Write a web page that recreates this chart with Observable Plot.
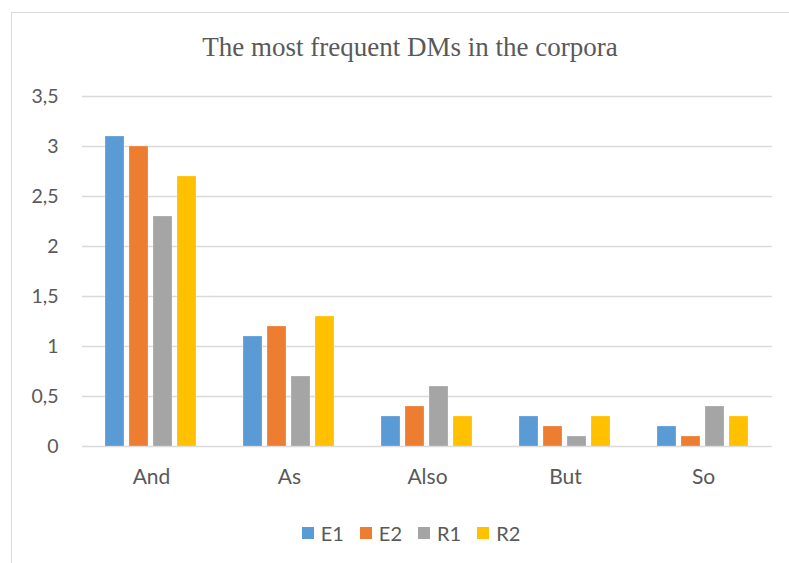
<!DOCTYPE html>
<html>
<head>
<meta charset="utf-8">
<script src="https://cdn.jsdelivr.net/npm/d3@7"></script>
<script src="https://cdn.jsdelivr.net/npm/@observablehq/plot@0.6"></script>
<style>
  html, body { margin: 0; padding: 0; background: #fff; width: 789px; height: 563px; overflow: hidden; }
  #frame { position: absolute; left: 11px; top: 12px; width: 800px; height: 560px; border-left: 1px solid #d9d9d9; border-top: 1px solid #d9d9d9; box-sizing: border-box; }
  #title { position: absolute; left: 0; top: 0; width: 820px; height: 70px; text-align: center; font-family: "Liberation Serif", "Times New Roman", serif; font-size: 27px; color: #595959; line-height: 28px; padding-top: 33px; box-sizing: border-box; white-space: nowrap; }
  #chart { position: absolute; left: 0; top: 70px; }
  #legend { position: absolute; left: 0; top: 520px; width: 822px; height: 26px; display: flex; justify-content: center; align-items: center; font-family: Lato, "Open Sans", sans-serif; font-size: 20px; color: #595959; }
  .item { display: flex; align-items: center; margin: 0 8px; }
  .sw { width: 12px; height: 12px; margin-right: 7px; }
</style>
</head>
<body>
<div id="frame"></div>
<div id="title">The most frequent DMs in the corpora</div>
<div id="chart"></div>
<div id="legend"></div>
<script>
const categories = ["And", "As", "Also", "But", "So"];
const seriesNames = ["E1", "E2", "R1", "R2"];
const seriesColors = ["#5B9BD5", "#ED7D31", "#A5A5A5", "#FFC000"];
const E1 = [3.1, 1.1, 0.3, 0.3, 0.2];
const E2 = [3.0, 1.2, 0.4, 0.2, 0.1];
const R1 = [2.3, 0.7, 0.6, 0.1, 0.4];
const R2 = [2.7, 1.3, 0.3, 0.3, 0.3];
const yTicks = [0, 0.5, 1, 1.5, 2, 2.5, 3, 3.5];

const seriesValues = [E1, E2, R1, R2];
const data = [];
categories.forEach((c, i) => {
  seriesNames.forEach((s, j) => data.push({ category: c, series: s, value: seriesValues[j][i] }));
});

const fmt = d => String(d).replace(".", ",");

const chart = Plot.plot({
  width: 789,
  height: 430,
  marginLeft: 81,
  marginRight: 16,
  marginTop: 26,
  marginBottom: 54,
  style: { fontFamily: "Lato, 'Open Sans', sans-serif", fontSize: "20px", color: "#595959", background: "transparent" },
  fx: { domain: categories, padding: 0, label: null },
  x: { domain: seriesNames, paddingInner: 0.2, paddingOuter: 0.87, axis: null },
  y: { domain: [0, 3.5], label: null },
  color: { domain: seriesNames, range: seriesColors },
  marks: [
    Plot.ruleY(yTicks, { stroke: "#d9d9d9", strokeWidth: 1.3 }),
    Plot.barY(data, { fx: "category", x: "series", y: "value", fill: "series", stroke: "#ffffff", strokeOpacity: 0.4, strokeWidth: 0.6 }),
    Plot.axisY(yTicks, { tickSize: 0, tickPadding: 24, tickFormat: fmt, label: null, fontSize: 19.5 }),
    Plot.axisFx({ anchor: "bottom", tickSize: 0, tickPadding: 23, label: null, fontSize: 21 })
  ]
});
document.getElementById("chart").appendChild(chart);

const legend = document.getElementById("legend");
seriesNames.forEach((s, i) => {
  const it = document.createElement("div");
  it.className = "item";
  const sw = document.createElement("div");
  sw.className = "sw";
  sw.style.background = seriesColors[i];
  const t = document.createElement("span");
  t.textContent = s;
  it.appendChild(sw);
  it.appendChild(t);
  legend.appendChild(it);
});
</script>
</body>
</html>
